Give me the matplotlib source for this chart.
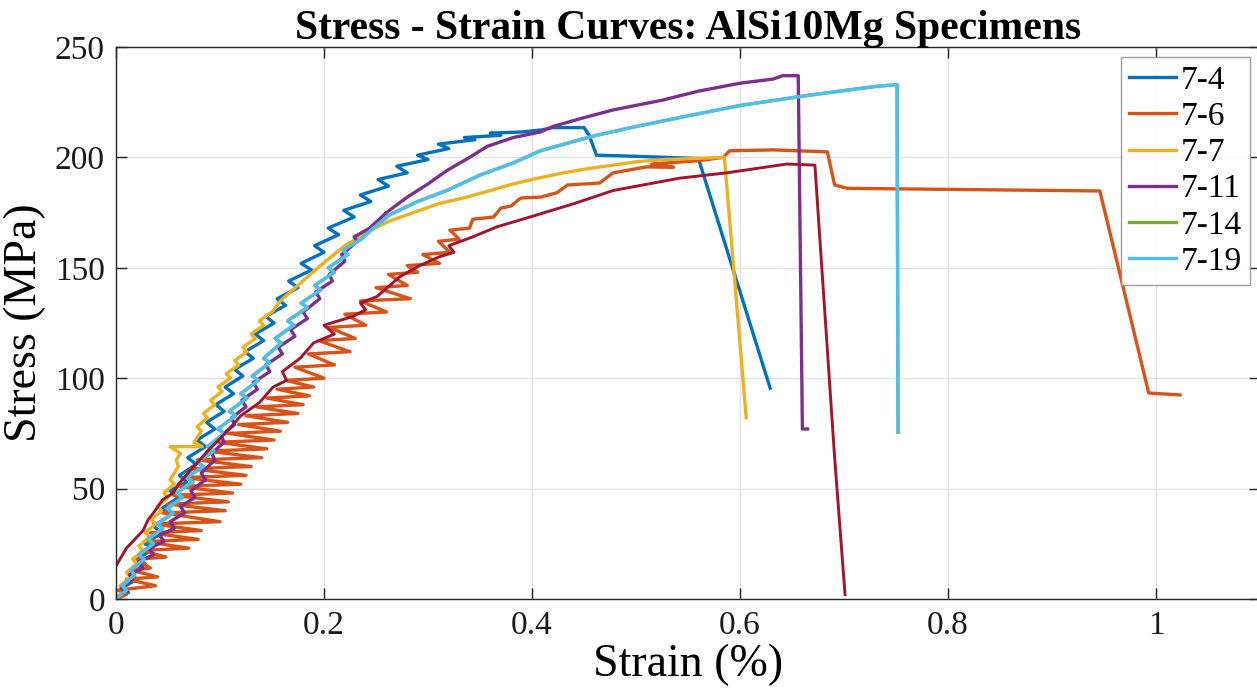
import matplotlib
matplotlib.use("Agg")
import matplotlib.pyplot as plt

# ---------------- data (strain %, stress MPa) ----------------
labels = ["7-4", "7-6", "7-7", "7-11", "7-14", "7-19"]
colors = ["#0072BD", "#D95319", "#EDB120", "#7E2F8E", "#77AC30", "#4DBEEE", "#A2142F"]

s74_x = [0, 0.012, 0.006, 0.02, 0.014, 0.028, 0.021, 0.036, 0.028, 0.044, 0.036, 0.052, 0.044, 0.06, 0.052,
         0.068, 0.061, 0.077, 0.069, 0.086, 0.078, 0.095, 0.087, 0.104, 0.096, 0.113, 0.105, 0.122, 0.114,
         0.132, 0.124, 0.142, 0.134, 0.152, 0.144, 0.163, 0.155, 0.175, 0.166, 0.188, 0.178, 0.2, 0.191,
         0.214, 0.204, 0.229, 0.219, 0.245, 0.235, 0.262, 0.252, 0.28, 0.27, 0.3, 0.29, 0.32, 0.31, 0.345,
         0.335, 0.37, 0.36, 0.39, 0.41, 0.42, 0.45, 0.455, 0.462, 0.5, 0.56, 0.629]
s74_y = [0, 3, 5, 9, 11, 16, 18, 23, 25, 30, 33, 38, 41, 46, 49,
         53, 56, 61, 64, 69, 72, 77, 80, 85, 88, 93, 96, 101, 104,
         109, 112, 117, 120, 125, 128, 133, 136, 141, 144, 149, 152, 157, 160,
         165, 168, 173, 176, 180, 183, 187, 190, 193, 196, 199, 201, 204, 206, 208,
         209, 210, 211, 211.5, 212.5, 213.5, 213.5, 210, 201, 200.5, 199.5, 95.5]

s76_x = [0, 0.01, 0.002, 0.038, 0.01, 0.04, 0.015, 0.033, 0.02, 0.048, 0.025, 0.07, 0.028, 0.079,
         0.033, 0.082, 0.036, 0.1, 0.045, 0.105, 0.05, 0.108, 0.055, 0.112, 0.06, 0.12, 0.065, 0.125,
         0.072, 0.13, 0.078, 0.14, 0.088, 0.145, 0.098, 0.152, 0.108, 0.158, 0.118, 0.165, 0.125, 0.175,
         0.135, 0.18, 0.145, 0.186, 0.155, 0.19, 0.163, 0.2, 0.172, 0.21, 0.185, 0.225, 0.195, 0.23,
         0.205, 0.24, 0.22, 0.26, 0.235, 0.283, 0.25, 0.28, 0.262, 0.29, 0.28, 0.311, 0.295, 0.321,
         0.31, 0.33, 0.321, 0.34, 0.343, 0.363, 0.37, 0.38, 0.389, 0.408, 0.424, 0.434, 0.465, 0.478,
         0.51, 0.536, 0.515, 0.56, 0.584, 0.59, 0.632, 0.684, 0.691, 0.703, 0.946, 0.993, 1.023]
s76_y = [0, 2, 4, 6, 9, 10, 13, 14, 18, 19, 22, 23, 26, 27,
         30, 31, 34, 35, 39, 40, 43, 44, 47, 48, 51, 52, 55, 56,
         59, 60, 63, 64, 67, 68, 71, 72, 75, 76, 79, 80, 83, 84,
         87, 88, 91, 92, 95, 96, 99, 100, 105, 106, 111, 112, 117, 118,
         123, 124, 129, 130, 135, 136, 141, 142, 147, 148, 151, 152, 156, 157,
         162, 163, 167, 168, 172, 173, 177, 178, 181.6, 182, 184, 187.5, 188.4, 193,
         195.7, 195.5, 197, 198.5, 200, 203, 203.4, 202.5, 187.5, 186, 184.8, 93.3, 92.4]

s77_x = [0, 0.008, 0.004, 0.014, 0.01, 0.02, 0.016, 0.026, 0.022, 0.032, 0.028, 0.038, 0.034, 0.044, 0.04,
         0.05, 0.046, 0.056, 0.052, 0.06, 0.058, 0.062, 0.052, 0.083, 0.075, 0.082, 0.078, 0.088, 0.084,
         0.095, 0.091, 0.102, 0.098, 0.11, 0.106, 0.118, 0.114, 0.126, 0.122, 0.134, 0.13, 0.142, 0.138,
         0.15, 0.158, 0.17, 0.182, 0.199, 0.22, 0.241, 0.262, 0.286, 0.31, 0.337, 0.36, 0.382, 0.405,
         0.43, 0.455, 0.478, 0.5, 0.526, 0.555, 0.585, 0.606]
s77_y = [0, 4, 6, 10, 12, 16, 18, 22, 24, 28, 30, 34, 36, 40, 42,
         46, 48, 52, 54, 60, 63, 66, 69, 69, 71, 76, 78, 82, 84,
         88, 90, 94, 96, 100, 102, 106, 108, 112, 114, 118, 120, 124, 126,
         130, 135, 140, 145, 152, 160, 166, 171, 175, 179, 182, 185, 188, 190.5,
         193, 195, 196.5, 198, 199, 199.5, 200, 82]

s711_x = [0, 0.008, 0.005, 0.016, 0.013, 0.026, 0.022, 0.036, 0.032, 0.046, 0.042, 0.056, 0.052, 0.066,
          0.062, 0.076, 0.072, 0.086, 0.082, 0.095, 0.092, 0.104, 0.101, 0.114, 0.111, 0.125, 0.121, 0.136,
          0.132, 0.148, 0.144, 0.16, 0.156, 0.172, 0.168, 0.184, 0.18, 0.196, 0.192, 0.208, 0.205, 0.22,
          0.217, 0.232, 0.229, 0.244, 0.26, 0.28, 0.3, 0.318, 0.34, 0.357, 0.382, 0.408, 0.42, 0.45, 0.478,
          0.526, 0.56, 0.6, 0.632, 0.641, 0.656, 0.66, 0.665]
s711_y = [0, 3, 5, 9, 11, 14, 17, 20, 23, 26, 29, 32, 35, 39,
          42, 46, 49, 54, 57, 63, 66, 71, 74, 79, 82, 87, 90, 95,
          98, 103, 106, 111, 114, 119, 122, 127, 130, 136, 139, 144, 147, 153,
          156, 162, 164, 168, 175, 182, 188, 194, 200, 205, 209, 211.5, 214, 218, 221.5,
          226, 230, 233.6, 235.5, 237, 237, 77, 77]

s719_x = [0, 0.01, 0.006, 0.018, 0.014, 0.027, 0.022, 0.036, 0.031, 0.045, 0.04, 0.055, 0.049, 0.064,
          0.058, 0.074, 0.068, 0.084, 0.078, 0.094, 0.088, 0.104, 0.098, 0.115, 0.109, 0.126, 0.12, 0.137,
          0.131, 0.148, 0.142, 0.159, 0.153, 0.171, 0.165, 0.184, 0.178, 0.197, 0.191, 0.21, 0.204, 0.223,
          0.218, 0.236, 0.245, 0.263, 0.29, 0.318, 0.35, 0.382, 0.408, 0.446, 0.462, 0.5, 0.552, 0.6,
          0.664, 0.728, 0.751, 0.752]
s719_y = [0, 4, 6, 11, 13, 18, 20, 25, 27, 32, 34, 39, 41, 46,
          48, 53, 55, 60, 62, 67, 69, 75, 77, 83, 85, 91, 93, 99,
          101, 107, 109, 116, 118, 124, 126, 132, 134, 140, 142, 148, 150, 156,
          158, 163, 167, 174, 180, 185, 192, 197.5, 203, 208, 210, 214, 219, 223.5,
          228, 232, 233, 75.6]

# 7-14 lies underneath 7-19 in the reference (not visible)
s714_x = list(s719_x)
s714_y = list(s719_y)

# unlabeled 7th curve (dark red)
s7x_x = [0, 0.01, 0.02, 0.026, 0.031, 0.036, 0.045, 0.055, 0.06, 0.075, 0.09, 0.105, 0.12, 0.138, 0.151,
         0.164, 0.16, 0.177, 0.19, 0.21, 0.2, 0.228, 0.24, 0.235, 0.251, 0.273, 0.292, 0.311, 0.325, 0.32,
         0.343, 0.366, 0.398, 0.44, 0.478, 0.542, 0.587, 0.645, 0.672, 0.691, 0.701]
s7x_y = [15, 23, 28, 31, 36, 39, 45, 48, 52, 60, 68, 75, 83, 89, 96,
         99, 103, 109, 116, 120, 124, 128, 131, 134, 137, 146, 151, 155, 157, 160,
         164, 168.5, 173, 179, 185, 190.6, 193, 197, 196.5, 64, 2]

xticks = [0, 0.2, 0.4, 0.6, 0.8, 1.0]
xticklabels = ["0", "0.2", "0.4", "0.6", "0.8", "1"]
yticks = [0, 50, 100, 150, 200, 250]

# ---------------- plot ----------------
plt.rcParams['font.family'] = ['Liberation Serif', 'DejaVu Serif']

fig = plt.figure(figsize=(12.57, 6.98), dpi=100)
ax = fig.add_axes([116/1257, 99/698, 1144/1257, 552/698])

series = [(s74_x, s74_y), (s76_x, s76_y), (s77_x, s77_y), (s711_x, s711_y),
          (s714_x, s714_y), (s719_x, s719_y), (s7x_x, s7x_y)]
lines = []
for i, (xs, ys) in enumerate(series):
    lw = 2.4 if i < 6 else 2.1
    ln, = ax.plot(xs, ys, color=colors[i], lw=lw, solid_joinstyle='round')
    lines.append(ln)

ax.set_xlim(0, 1.1)
ax.set_ylim(0, 250)
ax.set_xticks(xticks)
ax.set_xticklabels(xticklabels)
ax.set_yticks(yticks)
ax.grid(True, color='#e3e3e3', lw=1.0)
ax.set_axisbelow(True)
ax.tick_params(direction='in', length=8, width=1, top=True, right=True,
               labelsize=24, colors='#262626', labelcolor='#1a1a1a', pad=8)
for sp in ax.spines.values():
    sp.set_color('#262626')
    sp.set_linewidth(1.0)

ax.set_xlabel("Strain (%)", fontsize=33, labelpad=2)
ax.set_ylabel("Stress (MPa)", fontsize=33, labelpad=6)
ax.set_title("Stress - Strain Curves: AlSi10Mg Specimens", fontsize=30,
             fontweight='bold', pad=6)

leg = ax.legend(lines[:6], labels, loc='upper right', fontsize=24,
                frameon=True, fancybox=False, edgecolor='#888888',
                handlelength=1.4, handletextpad=0.15, labelspacing=0.17,
                borderpad=0.25, borderaxespad=0.3)
leg.get_frame().set_linewidth(1.0)
for lh in leg.get_lines():
    lh.set_linewidth(2.4)

fig.savefig("out.png", dpi=100)
